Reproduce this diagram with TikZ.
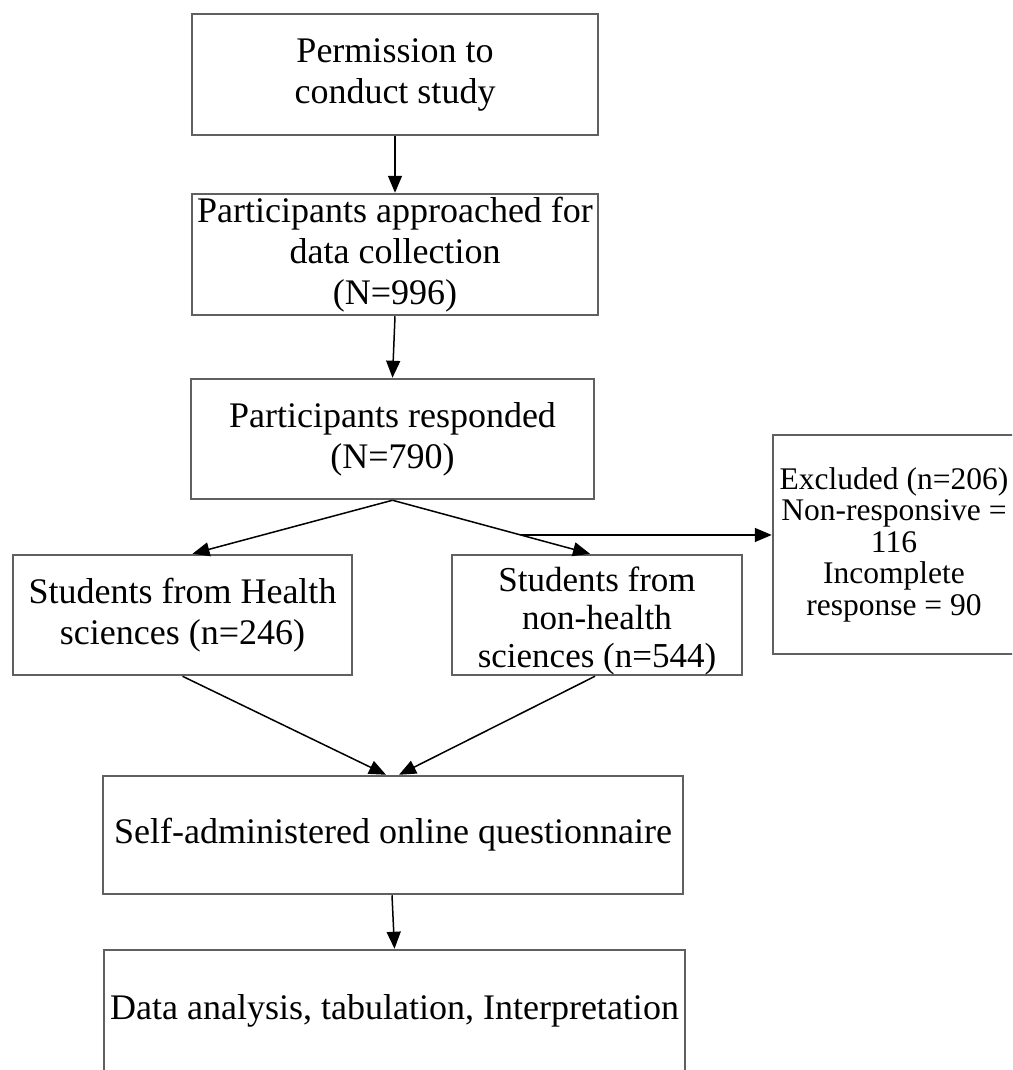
\documentclass[tikz,border=0pt]{standalone}
\usepackage{fontspec}
\setmainfont{Liberation Serif}
\usetikzlibrary{arrows.meta,calc}
\definecolor{bordergray}{HTML}{606060}
\tikzset{
  box/.style={draw=bordergray, line width=2.5pt, inner sep=0pt, align=center,
    font=\fontsize{36}{41}\selectfont},
  conn/.style={draw=black, line width=1.5pt, -{Triangle[length=17pt,width=14pt]}},
}
\begin{document}
\begin{tikzpicture}[x=1pt,y=-1pt]
\useasboundingbox (0,0) rectangle (1012,1070);
\clip (0,0) rectangle (1012,1070);
\node[box, minimum width=406pt, minimum height=121pt] (b1) at (395,74.5) {Permission to\\conduct study};
\node[box, minimum width=406pt, minimum height=121pt] (b2) at (395,254.5) {Participants approached for\\data collection\\(N=996)};
\node[box, minimum width=403pt, minimum height=120pt] (b3) at (392.5,439) {Participants responded\\(N=790)};
\node[box, minimum width=339pt, minimum height=120pt] (hs) at (182.5,615) {Students from Health\\sciences (n=246)};
\node[box, minimum width=290pt, minimum height=120pt] (nh) at (597,615) {};
\node[align=center, inner sep=0pt, font=\fontsize{35}{38}\selectfont] (nhtext) at (597,621) {Students from\\non-health\\sciences (n=544)};
\node[box, minimum width=242pt, minimum height=219pt, font=\fontsize{31.5}{31.5}\selectfont] (ex) at (894,544.5) {Excluded (n=206)\\Non-responsive =\\116\\Incomplete\\response = 90};
\node[box, minimum width=580pt, minimum height=118pt] (sa) at (393,835) {Self-administered online questionnaire};
\node[box, minimum width=581pt, minimum height=122pt] (da) at (394.5,1011) {Data analysis, tabulation, Interpretation};

\draw[conn] (b1.south) -- (b2.north);
\draw[conn] (b2.south) -- (b3.north);
\draw[conn] (b3.south) -- ([xshift=10pt]hs.north);
\draw[conn] (b3.south) -- ([xshift=-7pt]nh.north);
\coordinate (br) at ($(b3.south)!0.649!([xshift=-7pt]nh.north)$);
\draw[conn] (br) -- (br -| ex.west);
\draw[conn] (hs.south) -- ([xshift=-7pt]sa.north);
\draw[conn] ([xshift=-2pt]nh.south) -- ([xshift=6pt]sa.north);
\draw[conn] ([xshift=-1pt]sa.south) -- (da.north);
\end{tikzpicture}
\end{document}
